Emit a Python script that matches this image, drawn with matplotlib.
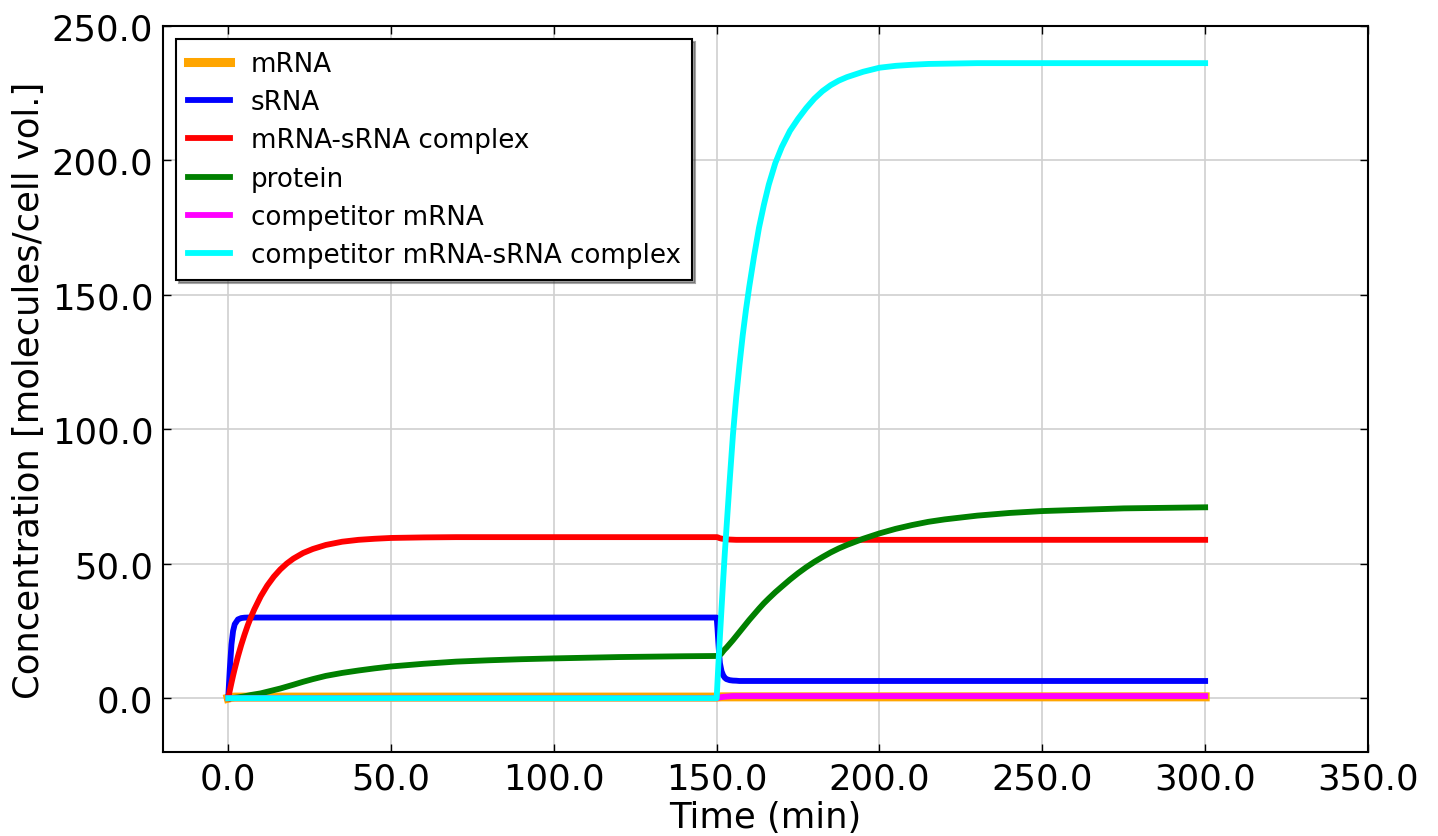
import matplotlib
matplotlib.use("Agg")
import matplotlib.pyplot as plt
from matplotlib.ticker import FormatStrFormatter

# sample times (min): before and after the competitor is switched on at 150 min
time = [0, 0.5, 1, 1.5, 2, 3, 4, 5, 6, 7, 8, 10, 12, 14, 16, 18, 20, 23, 26, 30,
        35, 40, 45, 50, 60, 70, 80, 90, 100, 120, 140, 150,
        150.25, 150.5, 150.75, 151, 151.5, 152, 152.5, 153, 154, 155,
        156, 157, 158, 159, 160, 161.5, 163, 164.5, 166, 168,
        170, 172.5, 175, 177.5, 180, 182.5, 185, 187.5, 190, 195,
        200, 205, 210, 215, 220, 230, 240, 250, 275, 300]

mrna = [0, 0.15, 0.3, 0.35, 0.4, 0.4, 0.4, 0.4, 0.4, 0.4, 0.4, 0.4, 0.4, 0.4, 0.4, 0.4,
        0.4, 0.4, 0.4, 0.4, 0.4, 0.4, 0.4, 0.4, 0.4, 0.4, 0.4, 0.4, 0.4, 0.4, 0.4, 0.4,
        0.42, 0.44, 0.46, 0.48, 0.5, 0.5, 0.5, 0.5, 0.5, 0.5,
        0.5, 0.5, 0.5, 0.5, 0.5, 0.5, 0.5, 0.5, 0.5, 0.5,
        0.5, 0.5, 0.5, 0.5, 0.5, 0.5, 0.5, 0.5, 0.5, 0.5,
        0.5, 0.5, 0.5, 0.5, 0.5, 0.5, 0.5, 0.5, 0.5, 0.5]

srna = [0, 11, 20, 25, 27.5, 29.3, 29.8, 29.95, 30, 30, 30, 30, 30, 30, 30, 30,
        30, 30, 30, 30, 30, 30, 30, 30, 30, 30, 30, 30, 30, 30, 30, 30,
        26, 21, 16.5, 13, 10, 8.5, 7.6, 7.1, 6.7, 6.55,
        6.5, 6.4, 6.4, 6.4, 6.4, 6.4, 6.4, 6.4, 6.4, 6.4,
        6.4, 6.4, 6.4, 6.4, 6.4, 6.4, 6.4, 6.4, 6.4, 6.4,
        6.4, 6.4, 6.4, 6.4, 6.4, 6.4, 6.4, 6.4, 6.4, 6.4]

complex_ = [0, 2.9, 5.7, 8.4, 10.9, 15.6, 19.8, 23.6, 27.1, 30.2, 33.0, 37.9, 41.9,
            45.2, 47.9, 50.1, 51.9, 54.0, 55.5, 57.0, 58.2, 58.9, 59.3, 59.6, 59.8,
            59.9, 59.9, 59.9, 59.9, 59.9, 59.9, 59.9,
            59.85, 59.75, 59.6, 59.5, 59.35, 59.25, 59.15, 59.1, 59.0, 58.95,
            58.9, 58.9, 58.9, 58.9, 58.9, 58.9, 58.9, 58.9, 58.9, 58.9,
            58.9, 58.9, 58.9, 58.9, 58.9, 58.9, 58.9, 58.9, 58.9, 58.9,
            58.9, 58.9, 58.9, 58.9, 58.9, 58.9, 58.9, 58.9, 58.9, 58.9]

protein = [0, 0.01, 0.05, 0.1, 0.15, 0.3, 0.5, 0.7, 0.95, 1.2, 1.4, 1.8, 2.4, 3.0,
           3.6, 4.3, 5.0, 6.1, 7.1, 8.3, 9.4, 10.3, 11.1, 11.8, 12.8, 13.6, 14.1,
           14.5, 14.8, 15.3, 15.6, 15.7,
           15.75, 15.8, 15.9, 16.1, 16.7, 17.5, 18.2, 18.8, 20.2, 21.6,
           23.1, 24.6, 26.1, 27.6, 29.1, 31.2, 33.3, 35.3, 37.1, 39.4,
           41.5, 44.1, 46.5, 48.7, 50.7, 52.5, 54.2, 55.7, 57.0, 59.3,
           61.3, 63.0, 64.4, 65.6, 66.5, 67.9, 68.9, 69.6, 70.6, 71.0]

comp_mrna = [0, 0, 0, 0, 0, 0, 0, 0, 0, 0, 0, 0, 0, 0, 0, 0,
             0, 0, 0, 0, 0, 0, 0, 0, 0, 0, 0, 0, 0, 0, 0, 0,
             0.1, 0.2, 0.25, 0.3, 0.4, 0.5, 0.55, 0.6, 0.7, 0.8,
             0.8, 0.8, 0.8, 0.8, 0.8, 0.8, 0.8, 0.8, 0.8, 0.8,
             0.8, 0.8, 0.8, 0.8, 0.8, 0.8, 0.8, 0.8, 0.8, 0.8,
             0.8, 0.8, 0.8, 0.8, 0.8, 0.8, 0.8, 0.8, 0.8, 0.8]

comp_complex = [0, 0, 0, 0, 0, 0, 0, 0, 0, 0, 0, 0, 0, 0, 0, 0,
                0, 0, 0, 0, 0, 0, 0, 0, 0, 0, 0, 0, 0, 0, 0, 0,
                6, 12, 17.5, 23, 33.5, 44, 54, 63, 81, 98,
                112, 124, 135, 144.5, 153, 164.5, 175, 183.5, 191, 199,
                205, 211, 215.5, 219.5, 223, 225.8, 228, 229.7, 231, 233,
                234.5, 235.2, 235.6, 235.9, 236.0, 236.2, 236.2, 236.2, 236.2, 236.2]

series = [
    ("mRNA", mrna, "orange", 6.5),
    ("sRNA", srna, "blue", 4.2),
    ("mRNA-sRNA complex", complex_, "red", 4.2),
    ("protein", protein, "green", 4.2),
    ("competitor mRNA", comp_mrna, "magenta", 4.2),
    ("competitor mRNA-sRNA complex", comp_complex, "cyan", 4.2),
]

plt.rcParams['font.family'] = ['DejaVu Sans']

fig = plt.figure(figsize=(14.38, 8.37), dpi=100)
ax = fig.add_axes([0.1134, 0.1004, 0.8379, 0.8673])

for label, vals, color, lw in series:
    ax.plot(time, vals, color=color, lw=lw, label=label)

ax.set_xlim(-20, 350)
ax.set_ylim(-20, 250)
ax.set_xticks([0, 50, 100, 150, 200, 250, 300, 350])
ax.set_yticks([0, 50, 100, 150, 200, 250])
ax.xaxis.set_major_formatter(FormatStrFormatter('%.1f'))
ax.yaxis.set_major_formatter(FormatStrFormatter('%.1f'))
ax.tick_params(direction='in', length=6, width=1, labelsize=25.5, pad=7,
               top=True, right=True)
for s in ax.spines.values():
    s.set_linewidth(1.5)

ax.grid(True, color='#d0d0d0', lw=1.2)
ax.set_axisbelow(True)

ax.set_xlabel("Time (min)", fontsize=25.5, labelpad=3)
ax.set_ylabel("Concentration [molecules/cell vol.]", fontsize=25.5, labelpad=4)

leg = ax.legend(loc='upper left', fontsize=18.8, shadow=True, fancybox=False,
                framealpha=1, edgecolor='black', handlelength=1.6,
                handletextpad=0.8, labelspacing=0.47, borderpad=0.45)
leg.get_frame().set_linewidth(1.5)

fig.savefig("out.png", dpi=100, facecolor='white')
